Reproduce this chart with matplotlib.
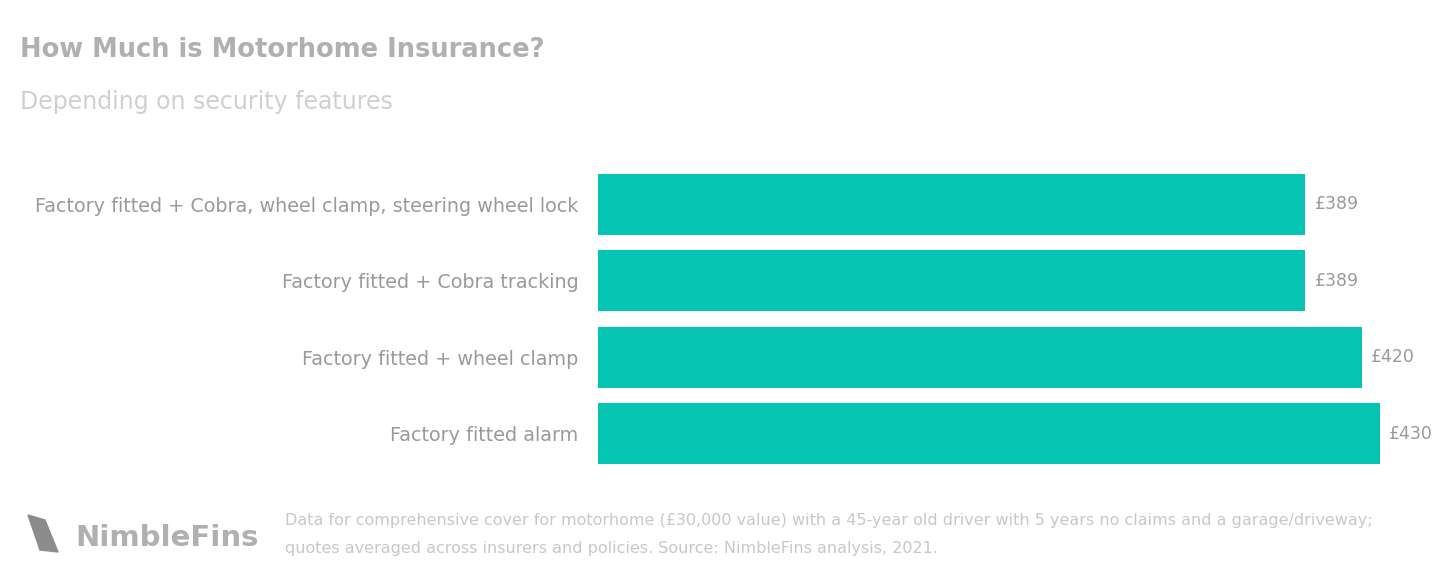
"""Motorhome insurance cost by security features - horizontal bar chart."""

import matplotlib.pyplot as plt
from matplotlib.patches import Polygon

categories = [
    "Factory fitted + Cobra, wheel clamp, steering wheel lock",
    "Factory fitted + Cobra tracking",
    "Factory fitted + wheel clamp",
    "Factory fitted alarm",
]
premiums = [389, 389, 420, 430]
value_labels = ["£389", "£389", "£420", "£430"]

title = "How Much is Motorhome Insurance?"
subtitle = "Depending on security features"
footnote = [
    "Data for comprehensive cover for motorhome (£30,000 value) with a 45-year old driver with 5 years no claims and a garage/driveway;",
    "quotes averaged across insurers and policies. Source: NimbleFins analysis, 2021.",
]

BAR_COLOR = "#05c4b1"
LABEL_COLOR = "#9a9a9a"

fig = plt.figure(figsize=(14.48, 5.82), dpi=100)
ax = fig.add_axes([598 / 1448, 110 / 582, (1380 - 598) / 1448, (474 - 168) / 582])

y = list(range(len(categories)))
ax.barh(y, premiums, height=0.8, color=BAR_COLOR)
ax.set_xlim(0, max(premiums))
ax.set_ylim(len(categories) - 0.5, -0.5)
ax.set_yticks(y)
ax.set_yticklabels(categories, fontsize=13.8, color=LABEL_COLOR)
ax.tick_params(axis="y", length=0, pad=14)
ax.set_xticks([])
for spine in ax.spines.values():
    spine.set_visible(False)

for yi, val, lab in zip(y, premiums, value_labels):
    ax.text(val + 5, yi, lab, va="center", ha="left", fontsize=12.5, color=LABEL_COLOR, clip_on=False)

fig.text(20 / 1448, 1 - 50 / 582, title, fontsize=18.5, fontweight="bold", color="#b0b0b0", va="center")
fig.text(20 / 1448, 1 - 102 / 582, subtitle, fontsize=17, color="#d0d0d0", va="center")

# logo: simple fin shape + wordmark
fin = Polygon(
    [(28 / 1448, 1 - 515 / 582), (45 / 1448, 1 - 520 / 582), (58 / 1448, 1 - 552 / 582), (40 / 1448, 1 - 550 / 582)],
    closed=True, transform=fig.transFigure, color="#8c8c8c",
)
fig.patches.append(fin)
fig.text(75 / 1448, 1 - 538 / 582, "NimbleFins", fontsize=21, fontweight="bold", color="#b0b0b0", va="center")

fig.text(285 / 1448, 1 - 520 / 582, footnote[0], fontsize=11.5, color="#c8c8c8", va="center")
fig.text(285 / 1448, 1 - 548 / 582, footnote[1], fontsize=11.5, color="#c8c8c8", va="center")

fig.savefig("out.png", dpi=100)
plt.close(fig)
